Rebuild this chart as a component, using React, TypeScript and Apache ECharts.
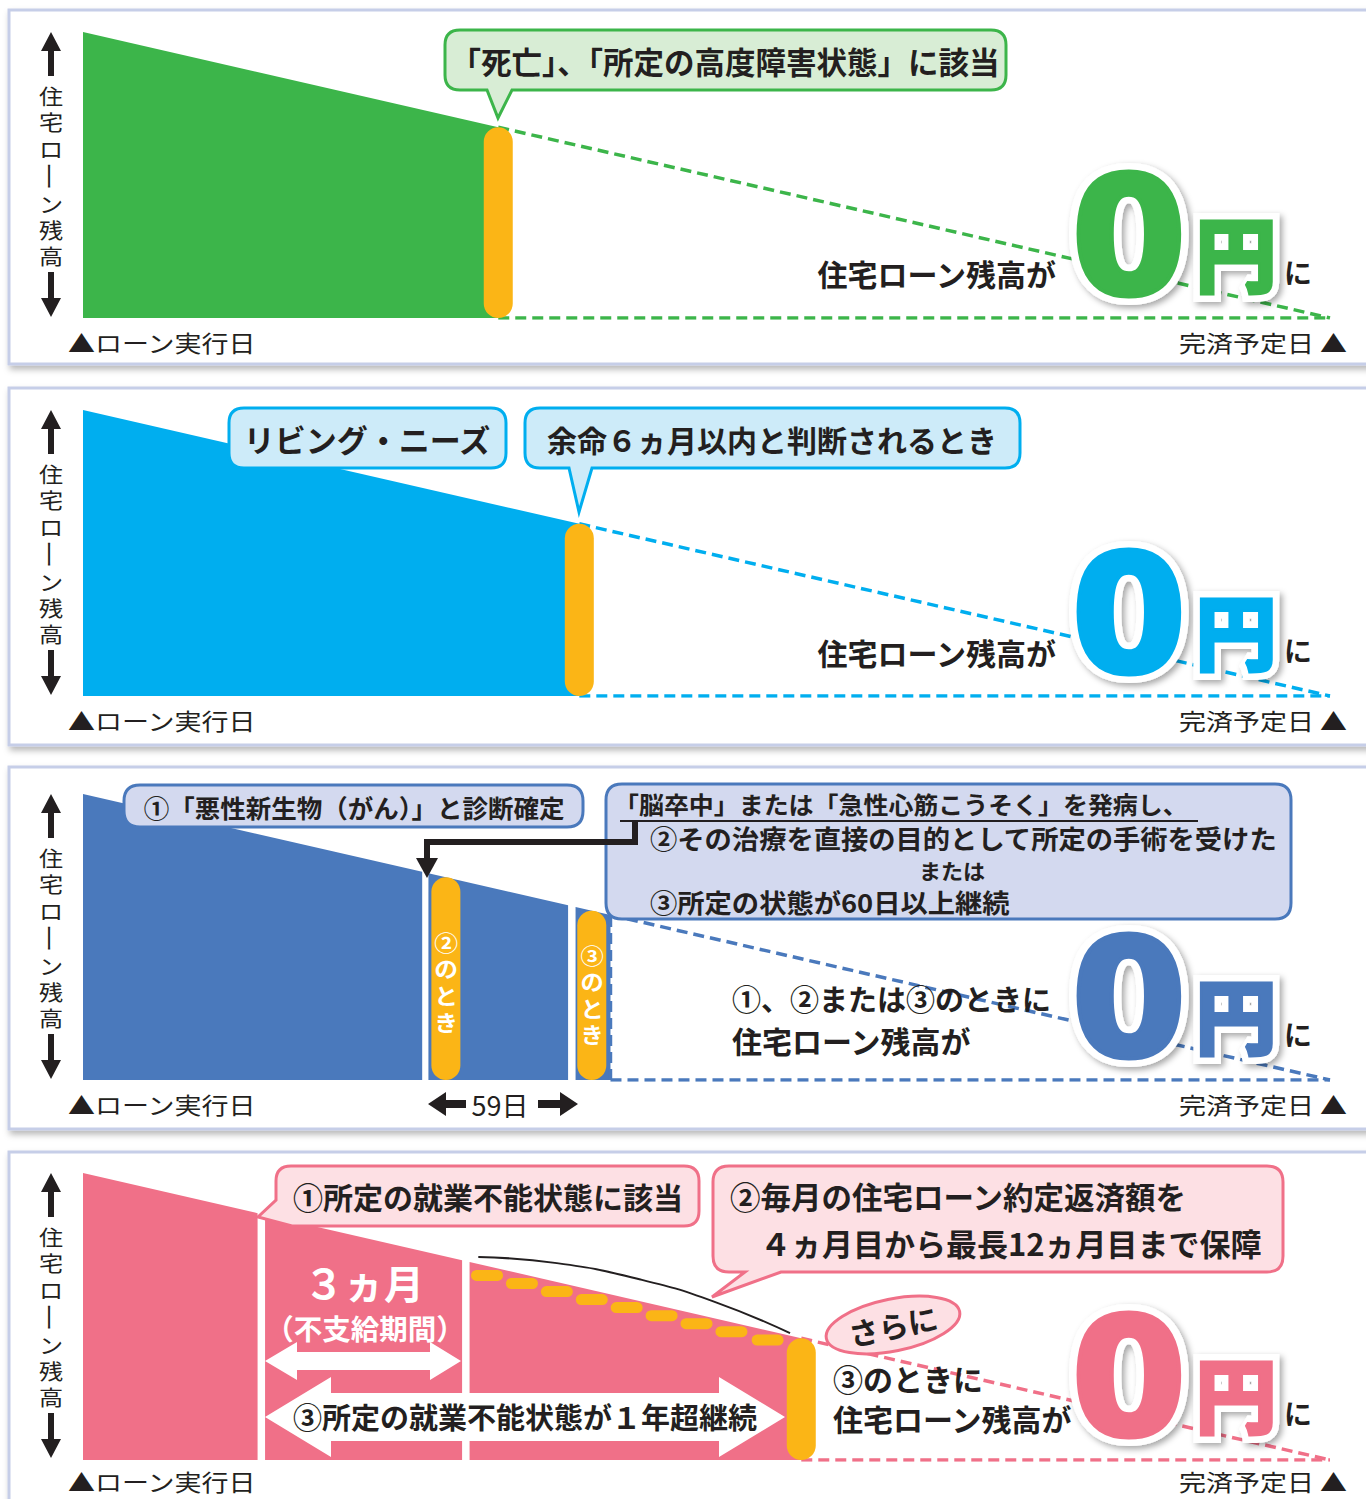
import React, { useEffect, useRef } from 'react';
import * as echarts from 'echarts';

// ---------------- data (time axis 0..100 = loan start .. planned payoff; balance 0..100) ----------------
// panel 1 (death / severe disability)
const p1Area = [[0, 100], [33.3, 66.7]];
const p1Bars = [[33.3, 66.7]];
const p1Slope = [[33.3, 66.7], [100, 0]];
const p1Base = [[33.3, 0], [100, 0]];

// panel 2 (living needs)
const p2Area = [[0, 100], [39.8, 60.2]];
const p2Bars = [[39.8, 60.2]];
const p2Slope = [[39.8, 60.2], [100, 0]];
const p2Base = [[39.8, 0], [100, 0]];

// panel 3 (cancer / stroke / heart attack)
const p3AreaA = [[0, 100], [27.2, 72.8]];
const p3AreaB = [[27.7, 72.3], [38.9, 61.1]];
const p3AreaC = [[39.5, 60.5], [42.3, 57.7]];
const p3Bars = [[29.1, 70.9], [40.8, 59.2]];
const p3Vert = [[42.3, 0], [42.3, 57.7]];
const p3Slope = [[42.3, 57.7], [100, 0]];
const p3Base = [[42.3, 0], [100, 0]];

// panel 4 (inability to work)
const p4AreaA = [[0, 100], [14.0, 86.0]];
const p4AreaB = [[14.6, 85.4], [30.4, 69.6]];
const p4AreaC = [[31.0, 69.0], [57.6, 42.4]];
const p4Bars = [[57.6, 42.4]];
const p4Slope = [[57.6, 42.4], [100, 0]];
const p4Base = [[57.6, 0], [100, 0]];
const p4Monthly = [[32.4, 64.3], [35.2, 61.5], [38.0, 58.7], [40.8, 55.9], [43.6, 53.1], [46.4, 50.3], [49.2, 47.5], [52.0, 44.7], [54.9, 41.8]];
const p4Curve = [[31.7, 70.7], [38.0, 68.6], [44.7, 62.9], [50.6, 55.2], [56.7, 44.2]];

// ---------------- style constants ----------------
const FONT = '"Noto Sans CJK JP", "Noto Sans", sans-serif';
const DARK = '#231f20';
const ORANGE = '#fbb516';
const BORDER = '#c6cee8';
const GREEN = '#3cb54a', GREEN_BG = '#d8edd5';
const CYAN = '#00aeef', CYAN_BG = '#cdebf9';
const BLUE = '#4a79bc', BLUE_BG = '#d3d9ef';
const PINK = '#f07088', PINK_BG = '#fde0e4';

const GRID_LEFT = 83, GRID_W = 1247;
const GRID_TOPS = [32, 410, 794, 1173];
const GRID_HS = [286, 286, 286, 287];

// ---------------- bubble shapes ----------------
type Tail = { kind: 'bottom' | 'bl'; p1: number; p2: number; tx: number; ty: number };
function bubblePath(x: number, y: number, w: number, h: number, r: number, tail?: Tail) {
  const R = x + w, B = y + h;
  let d = `M${x + r} ${y} L${R - r} ${y} Q${R} ${y} ${R} ${y + r} L${R} ${B - r} Q${R} ${B} ${R - r} ${B}`;
  if (tail && tail.kind === 'bottom') {
    d += ` L${tail.p2} ${B} L${tail.tx} ${tail.ty} L${tail.p1} ${B} L${x + r} ${B} Q${x} ${B} ${x} ${B - r}`;
  } else if (tail && tail.kind === 'bl') {
    d += ` L${tail.p1} ${B} L${tail.tx} ${tail.ty} L${x} ${tail.p2}`;
  } else {
    d += ` L${x + r} ${B} Q${x} ${B} ${x} ${B - r}`;
  }
  d += ` L${x} ${y + r} Q${x} ${y} ${x + r} ${y} Z`;
  return d;
}
const BUBBLES: Record<string, string> = {
  b1: bubblePath(445, 30, 561, 60, 15, { kind: 'bottom', p1: 487, p2: 512, tx: 498, ty: 118 }),
  b2a: bubblePath(229, 408, 277, 60, 15),
  b2b: bubblePath(525, 408, 495, 60, 15, { kind: 'bottom', p1: 569, p2: 592, tx: 579, ty: 512 }),
  b3a: bubblePath(124, 785, 459, 42, 16),
  b3b: bubblePath(606, 784, 685, 135, 16),
  b4a: bubblePath(276, 1166, 423, 60, 15, { kind: 'bl', p1: 292, p2: 1200, tx: 258, ty: 1217 }),
  b4b: bubblePath(713, 1166, 570, 106, 16, { kind: 'bottom', p1: 745, p2: 781, tx: 712, ty: 1297 }),
};
Object.keys(BUBBLES).forEach((k) => {
  echarts.graphic.registerShape('bub_' + k, echarts.graphic.extendPath(BUBBLES[k], {}));
});

// ---------------- helpers ----------------
function txt(text: string, x: number, y: number, size: number, o: any = {}) {
  return {
    type: 'text', z: o.z ?? 20,
    x, y, rotation: o.rotation ?? 0, scaleX: o.scaleX ?? 1, scaleY: o.scaleY ?? 1,
    style: {
      text, x: 0, y: 0,
      fill: o.fill ?? DARK,
      font: `${o.weight ?? 'bold'} ${size}px ${o.family ?? FONT}`,
      textAlign: o.align ?? 'left',
      textVerticalAlign: 'middle',
      ...(o.lineHeight ? { lineHeight: o.lineHeight } : {}),
      ...(o.stroke ? { stroke: o.stroke, lineWidth: o.lineWidth } : {}),
      ...(o.shadow ? { textShadowBlur: 6, textShadowColor: 'rgba(0,0,0,0.35)', textShadowOffsetX: 3, textShadowOffsetY: 3 } : {}),
    },
  };
}
function poly(points: number[][], fill: string, z = 15) {
  return { type: 'polygon', z, shape: { points }, style: { fill } };
}
function bubble(name: string, fill: string, stroke: string) {
  return { type: 'bub_' + name, z: 10, style: { fill, stroke, lineWidth: 3 } };
}

function panelCommon(i: number) {
  const dy = GRID_TOPS[i] - 32;
  const els: any[] = [];
  // up / down arrows
  els.push(poly([[51, 32 + dy], [61, 51 + dy], [54, 51 + dy], [54, 76 + dy], [48, 76 + dy], [48, 51 + dy], [41, 51 + dy]], DARK));
  els.push(poly([[51, 317 + dy], [61, 298 + dy], [54, 298 + dy], [54, 272 + dy], [48, 272 + dy], [48, 298 + dy], [41, 298 + dy]], DARK));
  // vertical label 住宅ローン残高
  els.push(txt('住\n宅\nロ', 51, 121.5 + dy, 21, { weight: 'normal', align: 'center', lineHeight: 26.5, scaleX: 1.15 }));
  els.push(txt('ー', 51, 176 + dy, 22, { weight: 'normal', align: 'center', rotation: -Math.PI / 2, scaleX: 1.3 }));
  els.push(txt('ン\n残\n高', 51, 229.5 + dy, 21, { weight: 'normal', align: 'center', lineHeight: 26, scaleX: 1.15 }));
  const by = i === 3 ? 340 : 342;
  els.push(txt('▲ローン実行日', 68, by + dy, 27, { weight: 'normal', scaleY: 0.86 }));
  els.push(txt('完済予定日 ▲', 1347, by + dy, 27, { weight: 'normal', align: 'right', scaleY: 0.86 }));
  return els;
}
function zeroYen(i: number, color: string) {
  const dy = GRID_TOPS[i] - 32;
  const zf = '"Noto Sans", sans-serif';
  return [
    txt('0', 1129, 229 + dy, 165, { fill: color, align: 'center', family: zf, stroke: '#fff', lineWidth: 20, shadow: true, z: 30, scaleX: 1.17 }),
    txt('0', 1129, 229 + dy, 165, { fill: color, align: 'center', family: zf, stroke: color, lineWidth: 7, z: 31, scaleX: 1.17 }),
    txt('円', 1236, 250 + dy, 80, { fill: color, align: 'center', stroke: '#fff', lineWidth: 18, shadow: true, z: 30 }),
    txt('円', 1236, 250 + dy, 80, { fill: color, align: 'center', stroke: color, lineWidth: 5, z: 31 }),
    txt('に', 1298, 272 + dy, 28, { align: 'center', z: 32 }),
  ];
}

// ---------------- series helpers ----------------
function area(g: number, data: number[][], color: string) {
  return { type: 'line', xAxisIndex: g, yAxisIndex: g, data, symbol: 'none', silent: true, z: 2,
    lineStyle: { width: 0, color }, areaStyle: { color, opacity: 1 } };
}
function dashed(g: number, data: number[][], color: string) {
  return { type: 'line', xAxisIndex: g, yAxisIndex: g, data, symbol: 'none', silent: true, z: 3,
    lineStyle: { width: 3.5, color, type: [11, 6] } };
}
function bars(g: number, data: number[][]) {
  return {
    type: 'custom', xAxisIndex: g, yAxisIndex: g, data, silent: true, z: 5,
    renderItem: (_p: any, api: any) => {
      const top = api.coord([api.value(0), api.value(1)]);
      const bot = api.coord([api.value(0), 0]);
      const w = 29;
      return { type: 'rect', shape: { x: top[0] - w / 2, y: top[1], width: w, height: bot[1] - top[1], r: w / 2 }, style: { fill: ORANGE } };
    },
  };
}
function monthly(g: number, data: number[][]) {
  return {
    type: 'custom', xAxisIndex: g, yAxisIndex: g, data, silent: true, z: 6,
    renderItem: (_p: any, api: any) => {
      const c = api.coord([api.value(0), api.value(1)]);
      const w = 32, h = 11;
      return { type: 'rect', shape: { x: c[0] - w / 2, y: c[1] - h / 2, width: w, height: h, r: h / 2 }, style: { fill: ORANGE } };
    },
  };
}

export default function App() {
  const ref = useRef<HTMLDivElement>(null);
  useEffect(() => {
    if (!ref.current) return;
    const chart = echarts.init(ref.current, undefined, { renderer: 'svg' });

    const grids = GRID_TOPS.map((t, i) => ({ left: GRID_LEFT, top: t, width: GRID_W, height: GRID_HS[i] }));
    const xAxes = grids.map((_, i) => ({ type: 'value', gridIndex: i, min: 0, max: 100, show: false }));
    const yAxes = grids.map((_, i) => ({ type: 'value', gridIndex: i, min: 0, max: 100, show: false }));

    const series: any[] = [
      // panel 1
      area(0, p1Area, GREEN), dashed(0, p1Slope, GREEN), dashed(0, p1Base, GREEN), bars(0, p1Bars),
      // panel 2
      area(1, p2Area, CYAN), dashed(1, p2Slope, CYAN), dashed(1, p2Base, CYAN), bars(1, p2Bars),
      // panel 3
      area(2, p3AreaA, BLUE), area(2, p3AreaB, BLUE), area(2, p3AreaC, BLUE),
      dashed(2, p3Vert, BLUE), dashed(2, p3Slope, BLUE), dashed(2, p3Base, BLUE), bars(2, p3Bars),
      // panel 4
      area(3, p4AreaA, PINK), area(3, p4AreaB, PINK), area(3, p4AreaC, PINK),
      dashed(3, p4Slope, PINK), dashed(3, p4Base, PINK), bars(3, p4Bars), monthly(3, p4Monthly),
      { type: 'line', xAxisIndex: 3, yAxisIndex: 3, data: p4Curve, smooth: true, symbol: 'none', silent: true, z: 7,
        lineStyle: { width: 2, color: DARK } },
    ];

    const panels = [[10, 354], [388, 357], [767, 362], [1152, 362]].map(([y, h]) => ({
      type: 'rect', z: -5, shape: { x: 9, y, width: 1390, height: h },
      style: { fill: '#fff', stroke: BORDER, lineWidth: 3, shadowBlur: 6, shadowOffsetX: 2, shadowOffsetY: 4, shadowColor: 'rgba(0,0,0,0.28)' },
    }));

    const g: any[] = [...panels];
    for (let i = 0; i < 4; i++) g.push(...panelCommon(i));

    // panel 1
    g.push(bubble('b1', GREEN_BG, GREEN));
    g.push(txt('「死亡」、「所定の高度障害状態」に該当', 725, 61, 30.5, { align: 'center' }));
    g.push(txt('住宅ローン残高が', 1056, 273, 30, { align: 'right' }));
    g.push(...zeroYen(0, GREEN));

    // panel 2
    g.push(bubble('b2a', CYAN_BG, CYAN));
    g.push(txt('リビング・ニーズ', 367, 438, 31, { align: 'center' }));
    g.push(bubble('b2b', CYAN_BG, CYAN));
    g.push(txt('余命６ヵ月以内と判断されるとき', 772, 439, 30, { align: 'center' }));
    g.push(txt('住宅ローン残高が', 1056, 652, 30, { align: 'right' }));
    g.push(...zeroYen(1, CYAN));

    // panel 3
    g.push(bubble('b3a', BLUE_BG, BLUE));
    g.push(txt('①「悪性新生物（がん）」と診断確定', 354, 806, 25.5, { align: 'center' }));
    g.push(bubble('b3b', BLUE_BG, BLUE));
    g.push(txt('「脳卒中」または「急性心筋こうそく」を発病し、', 614, 803.5, 24, { scaleX: 1.04 }));
    g.push({ type: 'line', z: 20, shape: { x1: 620, y1: 821, x2: 1198, y2: 821 }, style: { stroke: DARK, lineWidth: 2 } });
    g.push(txt('②その治療を直接の目的として所定の手術を受けた', 650, 838, 26, { scaleX: 1.05 }));
    g.push(txt('または', 952, 870, 21, { align: 'center', scaleX: 1.05 }));
    g.push(txt('③所定の状態が60日以上継続', 650, 902, 26, { scaleX: 1.05 }));
    g.push({ type: 'polyline', z: 21, shape: { points: [[635, 820], [635, 842], [427, 842], [427, 862]] }, style: { stroke: DARK, lineWidth: 6, fill: null } });
    g.push(poly([[416, 858], [438, 858], [427, 878]], DARK, 21));
    g.push(txt('②\nの\nと\nき', 446, 981, 22, { fill: '#fff', align: 'center', lineHeight: 26.7, scaleX: 1.08 }));
    g.push(txt('③\nの\nと\nき', 592, 994, 21.5, { fill: '#fff', align: 'center', lineHeight: 26.3, scaleX: 1.08 }));
    g.push(poly([[428, 1104], [446, 1092], [446, 1100], [466, 1100], [466, 1108], [446, 1108], [446, 1116]], DARK));
    g.push(txt('59日', 500, 1104, 27, { weight: 'normal', align: 'center' }));
    g.push(poly([[578, 1104], [560, 1092], [560, 1100], [538, 1100], [538, 1108], [560, 1108], [560, 1116]], DARK));
    g.push(txt('①、②または③のときに', 732, 998, 29));
    g.push(txt('住宅ローン残高が', 732, 1040, 30));
    g.push(...zeroYen(2, BLUE));

    // panel 4
    g.push(bubble('b4a', PINK_BG, PINK));
    g.push(txt('①所定の就業不能状態に該当', 488, 1196, 30, { align: 'center' }));
    g.push(bubble('b4b', PINK_BG, PINK));
    g.push(txt('②毎月の住宅ローン約定返済額を', 730, 1196, 30.5));
    g.push(txt('４ヵ月目から最長12ヵ月目まで保障', 760, 1242, 31));
    g.push(txt('３ヵ月', 364, 1282, 40, { fill: '#fff', align: 'center' }));
    g.push(txt('（不支給期間）', 365, 1327, 28.5, { fill: '#fff', align: 'center' }));
    g.push(poly([[265, 1361], [297, 1342], [297, 1352], [430, 1352], [430, 1342], [461, 1361], [430, 1380], [430, 1370], [297, 1370], [297, 1380]], '#fff', 12));
    g.push(poly([[265, 1417], [331, 1377], [331, 1393], [719, 1393], [719, 1377], [785, 1417], [719, 1457], [719, 1441], [331, 1441], [331, 1457]], '#fff', 12));
    g.push(txt('③所定の就業不能状態が１年超継続', 525, 1416, 29, { align: 'center' }));
    g.push({ type: 'ellipse', z: 10, x: 893, y: 1325, rotation: 0.2, shape: { cx: 0, cy: 0, rx: 68, ry: 26 }, style: { fill: PINK_BG, stroke: PINK, lineWidth: 3 } });
    g.push(txt('さらに', 893, 1325, 30, { align: 'center', rotation: 0.2 }));
    g.push(txt('③のときに', 833, 1378, 30));
    g.push(txt('住宅ローン残高が', 833, 1418, 30));
    g.push(...zeroYen(3, PINK));

    chart.setOption({
      animation: false,
      grid: grids,
      xAxis: xAxes,
      yAxis: yAxes,
      series,
      graphic: { elements: g },
    });
    return () => chart.dispose();
  }, []);
  return <div ref={ref} style={{ position: 'absolute', left: 0, top: 0, width: 1366, height: 1499 }} />;
}
